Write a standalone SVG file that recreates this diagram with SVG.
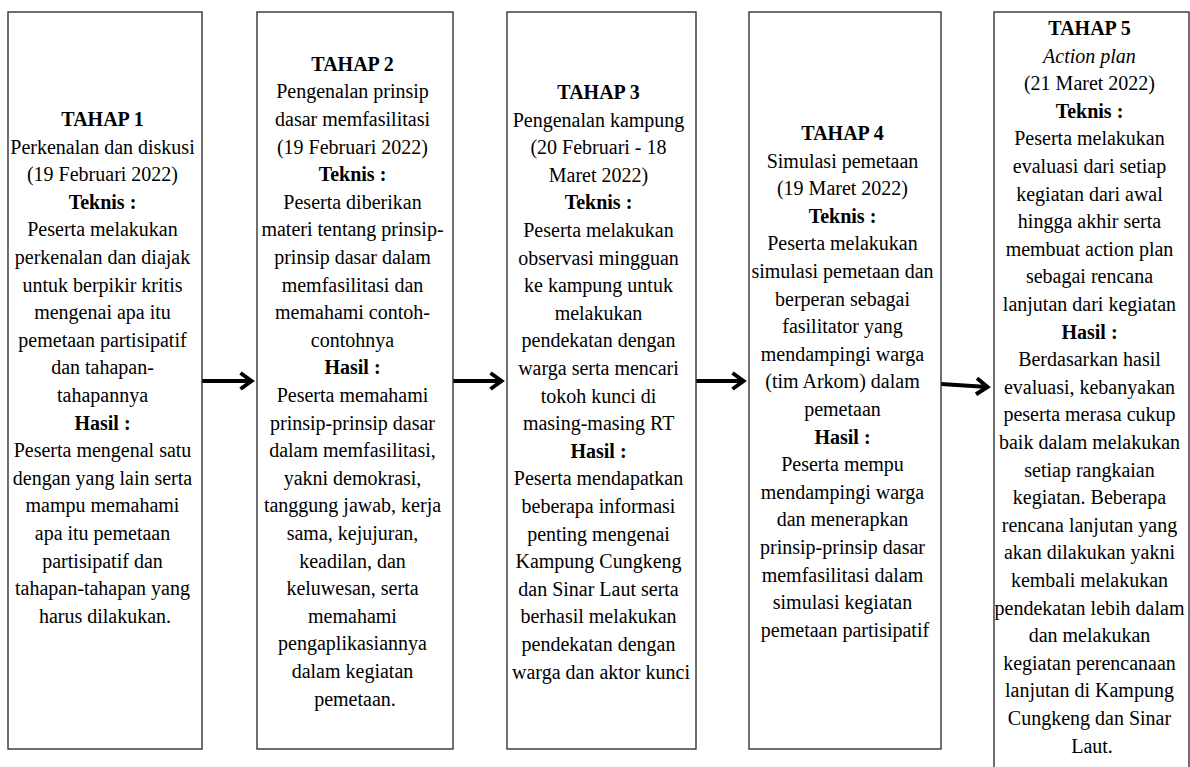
<svg xmlns="http://www.w3.org/2000/svg" width="1190" height="767" viewBox="0 0 1190 767">
<style>
.box{fill:#fff;stroke:#333;stroke-width:1.4}
.t{font-family:"Liberation Serif","Times New Roman",serif;font-size:20px;fill:#000;text-anchor:middle}
.b{font-weight:bold}
.i{font-style:italic}
.conn{stroke:#000;stroke-width:4;fill:none}
</style>
<defs>
<marker id="arr" markerUnits="userSpaceOnUse" markerWidth="24" markerHeight="24" refX="12" refY="10" orient="auto" overflow="visible">
<path d="M1,2 L12,10 L1,18" fill="none" stroke="#000" stroke-width="4"/>
</marker>
</defs>
<rect width="1190" height="767" fill="#fff"/>
<g id="connectors">
<line class="conn" x1="202" y1="381" x2="251.5" y2="381" marker-end="url(#arr)"/>
<line class="conn" x1="453" y1="381" x2="501.5" y2="381" marker-end="url(#arr)"/>
<line class="conn" x1="696" y1="381" x2="743.5" y2="381" marker-end="url(#arr)"/>
<line class="conn" x1="941" y1="384" x2="987.5" y2="387" marker-end="url(#arr)"/>
</g>
<g id="tahap1">
<rect class="box" x="8" y="12" width="194" height="737"/>
<text class="t">
<tspan x="105" y="126" class="b">TAHAP 1</tspan>
<tspan x="105" y="153.6">Perkenalan dan diskusi</tspan>
<tspan x="105" y="181.2">(19 Februari 2022)</tspan>
<tspan x="105" y="208.8" class="b">Teknis :</tspan>
<tspan x="105" y="236.4">Peserta melakukan</tspan>
<tspan x="105" y="264">perkenalan dan diajak</tspan>
<tspan x="105" y="291.6">untuk berpikir kritis</tspan>
<tspan x="105" y="319.2">mengenai apa itu</tspan>
<tspan x="105" y="346.8">pemetaan partisipatif</tspan>
<tspan x="105" y="374.4">dan tahapan-</tspan>
<tspan x="105" y="402">tahapannya</tspan>
<tspan x="105" y="429.6" class="b">Hasil :</tspan>
<tspan x="105" y="457.2">Peserta mengenal satu</tspan>
<tspan x="105" y="484.8">dengan yang lain serta</tspan>
<tspan x="105" y="512.4">mampu memahami</tspan>
<tspan x="105" y="540">apa itu pemetaan</tspan>
<tspan x="105" y="567.6">partisipatif dan</tspan>
<tspan x="105" y="595.2">tahapan-tahapan yang</tspan>
<tspan x="105" y="622.8">harus dilakukan.</tspan>
</text>
</g>
<g id="tahap2">
<rect class="box" x="257" y="12" width="196" height="737"/>
<text class="t">
<tspan x="355" y="70.8" class="b">TAHAP 2</tspan>
<tspan x="355" y="98.4">Pengenalan prinsip</tspan>
<tspan x="355" y="126">dasar memfasilitasi</tspan>
<tspan x="355" y="153.6">(19 Februari 2022)</tspan>
<tspan x="355" y="181.2" class="b">Teknis :</tspan>
<tspan x="355" y="208.8">Peserta diberikan</tspan>
<tspan x="355" y="236.4">materi tentang prinsip-</tspan>
<tspan x="355" y="264">prinsip dasar dalam</tspan>
<tspan x="355" y="291.6">memfasilitasi dan</tspan>
<tspan x="355" y="319.2">memahami contoh-</tspan>
<tspan x="355" y="346.8">contohnya</tspan>
<tspan x="355" y="374.4" class="b">Hasil :</tspan>
<tspan x="355" y="402">Peserta memahami</tspan>
<tspan x="355" y="429.6">prinsip-prinsip dasar</tspan>
<tspan x="355" y="457.2">dalam memfasilitasi,</tspan>
<tspan x="355" y="484.8">yakni demokrasi,</tspan>
<tspan x="355" y="512.4">tanggung jawab, kerja</tspan>
<tspan x="355" y="540">sama, kejujuran,</tspan>
<tspan x="355" y="567.6">keadilan, dan</tspan>
<tspan x="355" y="595.2">keluwesan, serta</tspan>
<tspan x="355" y="622.8">memahami</tspan>
<tspan x="355" y="650.4">pengaplikasiannya</tspan>
<tspan x="355" y="678">dalam kegiatan</tspan>
<tspan x="355" y="705.6">pemetaan.</tspan>
</text>
</g>
<g id="tahap3">
<rect class="box" x="507" y="12" width="189" height="737"/>
<text class="t">
<tspan x="601" y="99" class="b">TAHAP 3</tspan>
<tspan x="601" y="126.6">Pengenalan kampung</tspan>
<tspan x="601" y="154.2">(20 Februari - 18</tspan>
<tspan x="601" y="181.8">Maret 2022)</tspan>
<tspan x="601" y="209.4" class="b">Teknis :</tspan>
<tspan x="601" y="237">Peserta melakukan</tspan>
<tspan x="601" y="264.6">observasi mingguan</tspan>
<tspan x="601" y="292.2">ke kampung untuk</tspan>
<tspan x="601" y="319.8">melakukan</tspan>
<tspan x="601" y="347.4">pendekatan dengan</tspan>
<tspan x="601" y="375">warga serta mencari</tspan>
<tspan x="601" y="402.6">tokoh kunci di</tspan>
<tspan x="601" y="430.2">masing-masing RT</tspan>
<tspan x="601" y="457.8" class="b">Hasil :</tspan>
<tspan x="601" y="485.4">Peserta mendapatkan</tspan>
<tspan x="601" y="513">beberapa informasi</tspan>
<tspan x="601" y="540.6">penting mengenai</tspan>
<tspan x="601" y="568.2">Kampung Cungkeng</tspan>
<tspan x="601" y="595.8">dan Sinar Laut serta</tspan>
<tspan x="601" y="623.4">berhasil melakukan</tspan>
<tspan x="601" y="651">pendekatan dengan</tspan>
<tspan x="601" y="678.6">warga dan aktor kunci</tspan>
</text>
</g>
<g id="tahap4">
<rect class="box" x="749" y="12" width="192" height="737"/>
<text class="t">
<tspan x="845" y="140" class="b">TAHAP 4</tspan>
<tspan x="845" y="167.6">Simulasi pemetaan</tspan>
<tspan x="845" y="195.2">(19 Maret 2022)</tspan>
<tspan x="845" y="222.8" class="b">Teknis :</tspan>
<tspan x="845" y="250.4">Peserta melakukan</tspan>
<tspan x="845" y="278">simulasi pemetaan dan</tspan>
<tspan x="845" y="305.6">berperan sebagai</tspan>
<tspan x="845" y="333.2">fasilitator yang</tspan>
<tspan x="845" y="360.8">mendampingi warga</tspan>
<tspan x="845" y="388.4">(tim Arkom) dalam</tspan>
<tspan x="845" y="416">pemetaan</tspan>
<tspan x="845" y="443.6" class="b">Hasil :</tspan>
<tspan x="845" y="471.2">Peserta mempu</tspan>
<tspan x="845" y="498.8">mendampingi warga</tspan>
<tspan x="845" y="526.4">dan menerapkan</tspan>
<tspan x="845" y="554">prinsip-prinsip dasar</tspan>
<tspan x="845" y="581.6">memfasilitasi dalam</tspan>
<tspan x="845" y="609.2">simulasi kegiatan</tspan>
<tspan x="845" y="636.8">pemetaan partisipatif</tspan>
</text>
</g>
<g id="tahap5">
<rect class="box" x="994" y="12" width="195" height="780"/>
<text class="t">
<tspan x="1092" y="35" class="b">TAHAP 5</tspan>
<tspan x="1092" y="62.6" class="i">Action plan</tspan>
<tspan x="1092" y="90.2">(21 Maret 2022)</tspan>
<tspan x="1092" y="117.8" class="b">Teknis :</tspan>
<tspan x="1092" y="145.4">Peserta melakukan</tspan>
<tspan x="1092" y="173">evaluasi dari setiap</tspan>
<tspan x="1092" y="200.6">kegiatan dari awal</tspan>
<tspan x="1092" y="228.2">hingga akhir serta</tspan>
<tspan x="1092" y="255.8">membuat action plan</tspan>
<tspan x="1092" y="283.4">sebagai rencana</tspan>
<tspan x="1092" y="311">lanjutan dari kegiatan</tspan>
<tspan x="1092" y="338.6" class="b">Hasil :</tspan>
<tspan x="1092" y="366.2">Berdasarkan hasil</tspan>
<tspan x="1092" y="393.8">evaluasi, kebanyakan</tspan>
<tspan x="1092" y="421.4">peserta merasa cukup</tspan>
<tspan x="1092" y="449">baik dalam melakukan</tspan>
<tspan x="1092" y="476.6">setiap rangkaian</tspan>
<tspan x="1092" y="504.2">kegiatan. Beberapa</tspan>
<tspan x="1092" y="531.8">rencana lanjutan yang</tspan>
<tspan x="1092" y="559.4">akan dilakukan yakni</tspan>
<tspan x="1092" y="587">kembali melakukan</tspan>
<tspan x="1092" y="614.6">pendekatan lebih dalam</tspan>
<tspan x="1092" y="642.2">dan melakukan</tspan>
<tspan x="1092" y="669.8">kegiatan perencanaan</tspan>
<tspan x="1092" y="697.4">lanjutan di Kampung</tspan>
<tspan x="1092" y="725">Cungkeng dan Sinar</tspan>
<tspan x="1092" y="752.6">Laut.</tspan>
</text>
</g>
</svg>
